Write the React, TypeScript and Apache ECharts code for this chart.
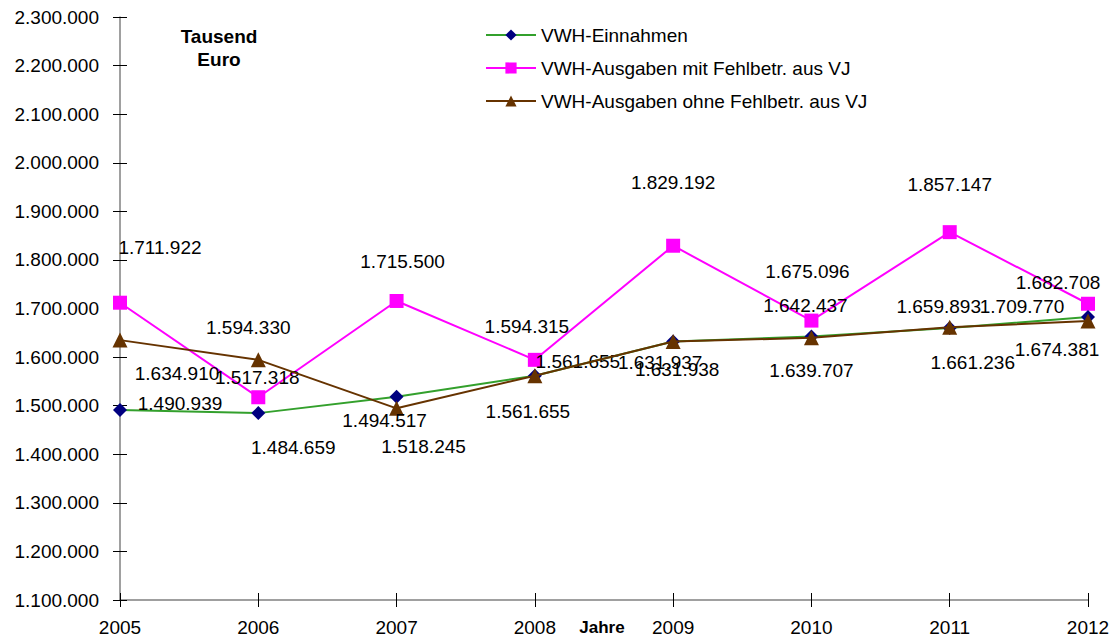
import React, { useEffect, useRef } from "react";
import * as echarts from "echarts";

const years = ["2005", "2006", "2007", "2008", "2009", "2010", "2011", "2012"];
const einnahmen = [1490939, 1484659, 1518245, 1561655, 1631937, 1642437, 1659893, 1682708];
const ausgabenMit = [1711922, 1517318, 1715500, 1594315, 1829192, 1675096, 1857147, 1709770];
const ausgabenOhne = [1634910, 1594330, 1494517, 1561655, 1631938, 1639707, 1661236, 1674381];
const seriesNames = ["VWH-Einnahmen", "VWH-Ausgaben mit Fehlbetr. aus VJ", "VWH-Ausgaben ohne Fehlbetr. aus VJ"];

// label offsets (dx, dy) from each point, as placed in the original
const offEin = [[60, -7], [35, 34], [27, 50], [43, -14], [-13, 21], [-6, -31], [-11, -21], [-30, -34]];
const offMit = [[40, -55], [-1, -20], [6, -39], [-8, -33], [0, -63], [-4, -49], [0, -48], [-66, 3]];
const offOhne = [[57, 33], [-10, -32], [-12, 12], [-7, 36], [4, 28], [0, 33], [23, 35], [-31, 29]];

const fmt = (v: number) => {
  const s = Math.round(v).toString();
  return s.replace(/\B(?=(\d{3})+(?!\d))/g, ".");
};

const FONT = "Liberation Sans, Arial, sans-serif";

function mkData(vals: number[], offs: number[][]) {
  return vals.map((v, i) => ({
    value: v,
    label: { offset: offs[i] },
  }));
}

export default function App() {
  const ref = useRef<HTMLDivElement>(null);
  useEffect(() => {
    if (!ref.current) return;
    const chart = echarts.init(ref.current, undefined, { renderer: "svg" });
    const labelCommon = {
      show: true,
      position: "inside",
      align: "center",
      verticalAlign: "middle",
      color: "#000",
      fontSize: 19,
      fontFamily: FONT,
      formatter: (p: any) => fmt(p.value),
    };
    const axisColor = "#808080";
    chart.setOption({
      animation: false,
      backgroundColor: "#fff",
      grid: { left: 120, right: 30, top: 17, bottom: 39 },
      legend: {
        orient: "vertical",
        left: 485,
        top: 25,
        itemWidth: 50,
        itemHeight: 14,
        itemGap: 13,
        padding: 0,
        textStyle: { fontSize: 19, fontFamily: FONT, color: "#000", lineHeight: 20 },
        data: seriesNames,
      },
      xAxis: [
        {
          type: "category",
          data: years,
          boundaryGap: false,
          axisLine: { lineStyle: { color: axisColor, width: 1.5 } },
          axisTick: { inside: false, length: 7, lineStyle: { color: "#000" } },
          axisLabel: { color: "#000", fontSize: 19, fontFamily: FONT, margin: 18 },
          splitLine: { show: false },
        },
        {
          type: "category",
          data: years,
          position: "bottom",
          boundaryGap: false,
          axisLine: { show: false },
          axisTick: { show: true, inside: true, length: 7, lineStyle: { color: "#000" } },
          axisLabel: { show: false },
          splitLine: { show: false },
        },
      ],
      yAxis: [
        {
          type: "value",
          min: 1100000,
          max: 2300000,
          interval: 100000,
          axisLine: { show: true, lineStyle: { color: axisColor, width: 1.5 } },
          axisTick: { show: true, inside: false, length: 7, lineStyle: { color: "#000" } },
          axisLabel: { color: "#000", fontSize: 19, fontFamily: FONT, margin: 21, formatter: (v: number) => fmt(v) },
          splitLine: { show: false },
        },
        {
          type: "value",
          min: 1100000,
          max: 2300000,
          interval: 100000,
          position: "left",
          axisLine: { show: false },
          axisTick: { show: true, inside: true, length: 7, lineStyle: { color: "#000" } },
          axisLabel: { show: false },
          splitLine: { show: false },
        },
      ],
      series: [
        {
          name: seriesNames[0],
          type: "line",
          data: mkData(einnahmen, offEin),
          symbol: "diamond",
          symbolSize: 14,
          lineStyle: { color: "#33a02c", width: 2 },
          itemStyle: { color: "#000080" },
          label: labelCommon,
          z: 3,
        },
        {
          name: seriesNames[1],
          type: "line",
          data: mkData(ausgabenMit, offMit),
          symbol: "rect",
          symbolSize: 14,
          lineStyle: { color: "#ff00ff", width: 2 },
          itemStyle: { color: "#ff00ff" },
          label: labelCommon,
          z: 2,
        },
        {
          name: seriesNames[2],
          type: "line",
          data: mkData(ausgabenOhne, offOhne),
          symbol: "triangle",
          symbolSize: 15,
          lineStyle: { color: "#663300", width: 2 },
          itemStyle: { color: "#663300" },
          label: labelCommon,
          z: 4,
        },
      ],
      graphic: [
        {
          type: "text",
          x: 219,
          y: 36,
          style: {
            text: "Tausend",
            align: "center",
            verticalAlign: "middle",
            fontSize: 19,
            fontWeight: "bold",
            fontFamily: FONT,
            fill: "#000",
          },
        },
        {
          type: "text",
          x: 219,
          y: 59,
          style: {
            text: "Euro",
            align: "center",
            verticalAlign: "middle",
            fontSize: 19,
            fontWeight: "bold",
            fontFamily: FONT,
            fill: "#000",
          },
        },
        {
          type: "text",
          x: 602,
          y: 627,
          style: {
            text: "Jahre",
            align: "center",
            verticalAlign: "middle",
            fontSize: 17,
            fontWeight: "bold",
            fontFamily: FONT,
            fill: "#000",
          },
        },
      ],
    });
    return () => chart.dispose();
  }, []);
  return <div ref={ref} style={{ width: 1118, height: 639, position: "absolute", left: 0, top: 0 }} />;
}
